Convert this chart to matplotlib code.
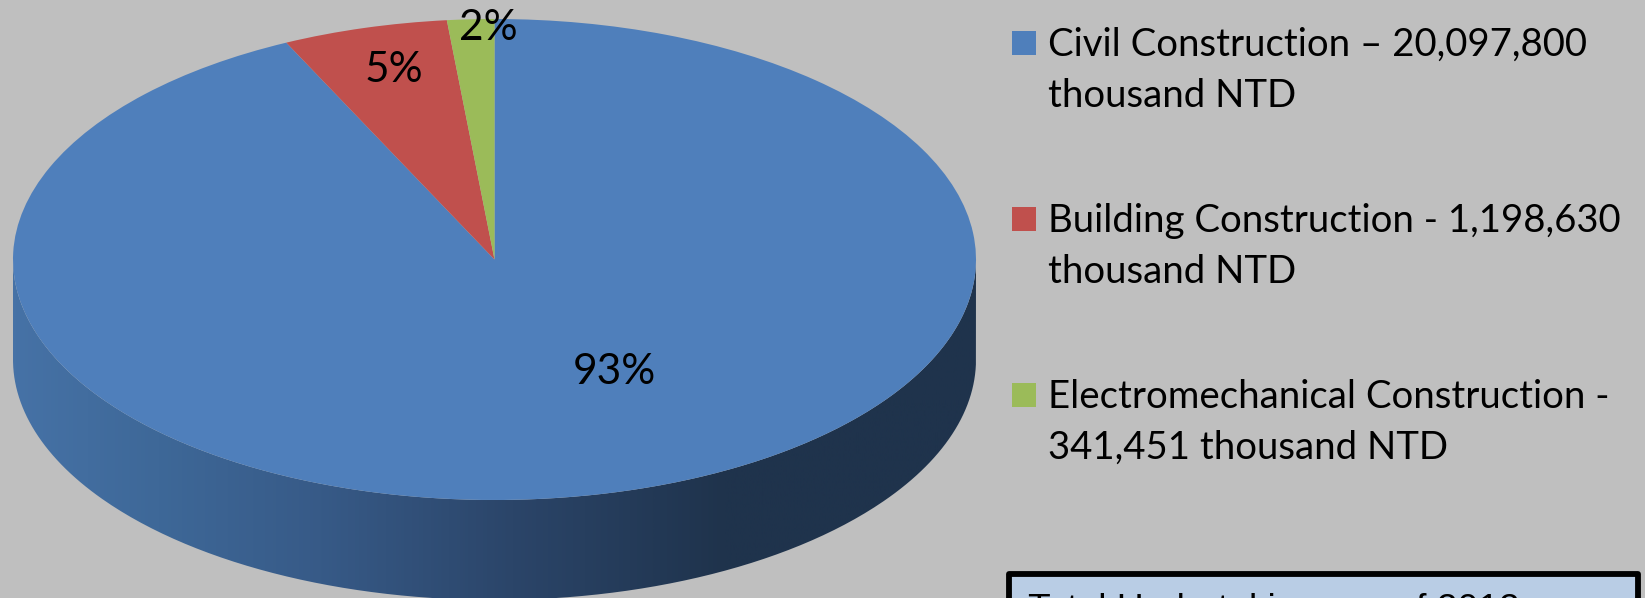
import numpy as np
import matplotlib
matplotlib.use('Agg')
import matplotlib.pyplot as plt
from matplotlib.colors import LinearSegmentedColormap
from matplotlib.patches import PathPatch, Rectangle
from matplotlib.path import Path

# undertaking amounts, thousand NTD
categories = ['Civil Construction', 'Building Construction', 'Electromechanical Construction']
amounts = [20097800, 1198630, 341451]
pct_labels = ['93%', '5%', '2%']
legend_lines = [
    ['Civil Construction \u2013 20,097,800', 'thousand NTD'],
    ['Building Construction - 1,198,630', 'thousand NTD'],
    ['Electromechanical Construction -', '341,451 thousand NTD'],
]
box_text = 'Total Undertakings as of 2012'

colors = ['#4F7FBB', '#C0504D', '#9BBB59']
side_stops = ['#4672A6', '#3E6898', '#375A87', '#2B4569', '#1F334C', '#1F334C']
side_pos = [0.0, 0.15, 0.32, 0.52, 0.74, 1.0]

W, H = 1645, 598
fig = plt.figure(figsize=(W / 100, H / 100), dpi=100, facecolor='#BFBFBF')

# full-figure axes in pixel units for the side wall, legend and box
ax = fig.add_axes([0, 0, 1, 1])
ax.set_xlim(0, W)
ax.set_ylim(H, 0)
ax.axis('off')

# ellipse of the top face
left, right, top, bottom = 13, 976, 19, 500
depth = 100
cx, cy = (left + right) / 2, (top + bottom) / 2
rx, ry = (right - left) / 2, (bottom - top) / 2

# side wall, shaded left to right
t = np.linspace(np.pi, 0, 300)
upper = np.column_stack([cx + rx * np.cos(t), cy + ry * np.sin(t)])
lower = upper[::-1] + [0, depth]
wall = PathPatch(Path(np.vstack([upper, lower, upper[:1]])), fc='none', ec='none')
ax.add_patch(wall)
cmap = LinearSegmentedColormap.from_list('wall', list(zip(side_pos, side_stops)))
im = ax.imshow(np.linspace(0, 1, 512)[None, :], cmap=cmap, aspect='auto',
               extent=[left, right, H + 10, 200], zorder=1)
im.set_clip_path(wall)
ax.set_xlim(0, W)
ax.set_ylim(H, 0)

# top face is an ordinary pie stretched into the ellipse
pie_ax = fig.add_axes([left / W, 1 - bottom / H, (right - left) / W, (bottom - top) / H])
pie_ax.pie(amounts, colors=colors, startangle=90, counterclock=False,
           radius=1, wedgeprops={'linewidth': 0})
pie_ax.set_aspect('auto')
pie_ax.set_xlim(-1, 1)
pie_ax.set_ylim(-1, 1)
pie_ax.patch.set_alpha(0)

# percentage labels go above the pie
over = fig.add_axes([0, 0, 1, 1])
over.set_xlim(0, W)
over.set_ylim(H, 0)
over.axis('off')
label_pos = [(614, 384), (394, 82), (488, 40)]
for s, (x, y) in zip(pct_labels, label_pos):
    over.text(x, y, s, family='Lato', fontsize=30.5, ha='center', va='baseline', color='black')

# legend
row_y = [31, 207, 383]
for lines, c, y in zip(legend_lines, colors, row_y):
    over.add_patch(Rectangle((1012, y), 24, 24, fc=c, ec='none'))
    over.text(1048, y + 25, lines[0], family='Lato', fontsize=27.6, va='baseline', color='black')
    over.text(1048, y + 76, lines[1], family='Lato', fontsize=27.6, va='baseline', color='black')

# total box runs off the lower edge
over.add_patch(Rectangle((1008.5, 574), 629, 60, fc='#B9CDE5', ec='black', lw=4.2, joinstyle='round'))
over.text(1028, 620, box_text, family='Liberation Sans', fontsize=26.7, va='baseline', color='black')

fig.savefig('out.png', dpi=100, facecolor=fig.get_facecolor())
